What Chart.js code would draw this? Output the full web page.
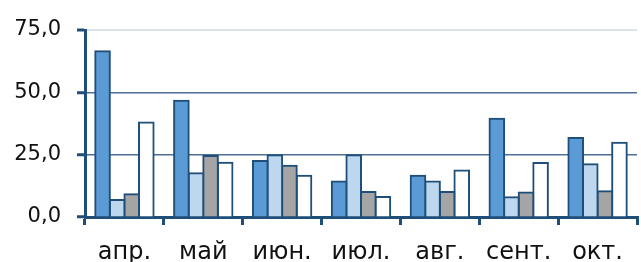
<!DOCTYPE html>
<html>
<head>
<meta charset="utf-8">
<script src="https://cdn.jsdelivr.net/npm/chart.js@4"></script>
<style>
  html, body { margin: 0; padding: 0; background: #fff; }
  #wrap { width: 641px; height: 262px; }
</style>
</head>
<body>
<div id="wrap"><canvas id="chart"></canvas></div>
<script>
const months = ['апр.', 'май', 'июн.', 'июл.', 'авг.', 'сент.', 'окт.'];
const series1 = [66.5, 46.6, 22.5, 14.2, 16.5, 39.4, 31.7];
const series2 = [6.8, 17.5, 24.8, 24.8, 14.2, 7.9, 21.2];
const series3 = [9.1, 24.5, 20.6, 10.0, 10.0, 9.8, 10.3];
const series4 = [37.9, 21.8, 16.5, 8.0, 18.6, 21.7, 29.8];
const yTicks = [0, 25, 50, 75];

const dark = '#1F4E79';
const fillColors = ['#5B9BD5', '#BDD7EE', '#A5A5A5', '#FFFFFF'];

function makeSet(data, i) {
    return {
        data: data,
        backgroundColor: fillColors[i],
        borderColor: dark,
        borderWidth: 2,
        borderSkipped: 'bottom',
        inflateAmount: 1
    };
}

new Chart(document.getElementById('chart'), {
    type: 'bar',
    data: {
        labels: months,
        datasets: [series1, series2, series3, series4].map(makeSet)
    },
    options: {
        responsive: true,
        maintainAspectRatio: false,
        animation: false,
        datasets: { bar: { categoryPercentage: 0.74, barPercentage: 1.0 } },
        layout: { padding: { top: 30, right: 4, bottom: 0, left: 0 } },
        plugins: { legend: { display: false }, tooltip: { enabled: false } },
        scales: {
            x: {
                afterFit: s => { s.height = 45; },
                border: { color: dark, width: 3 },
                grid: {
                    offset: true,
                    drawOnChartArea: false,
                    drawTicks: true,
                    tickLength: 8,
                    tickColor: dark,
                    lineWidth: 3
                },
                ticks: {
                    font: { family: 'DejaVu Sans', size: 24 },
                    color: '#111',
                    padding: 13
                }
            },
            y: {
                min: 0,
                max: 75,
                afterFit: s => { s.width = 85; },
                afterBuildTicks: s => { s.ticks = yTicks.map(v => ({ value: v })); },
                border: { color: dark, width: 3 },
                grid: {
                    color: ctx => ctx.tick && ctx.tick.value === 75 ? '#DCE2EA' : '#4E7096',
                    lineWidth: ctx => ctx.tick && ctx.tick.value === 75 ? 2 : 1.5,
                    tickLength: 8,
                    tickColor: dark,
                    tickWidth: 3
                },
                ticks: {
                    font: { family: 'DejaVu Sans', size: 21 },
                    color: '#111',
                    padding: 16,
                    callback: v => v.toFixed(1).replace('.', ',')
                }
            }
        }
    }
});
</script>
</body>
</html>
